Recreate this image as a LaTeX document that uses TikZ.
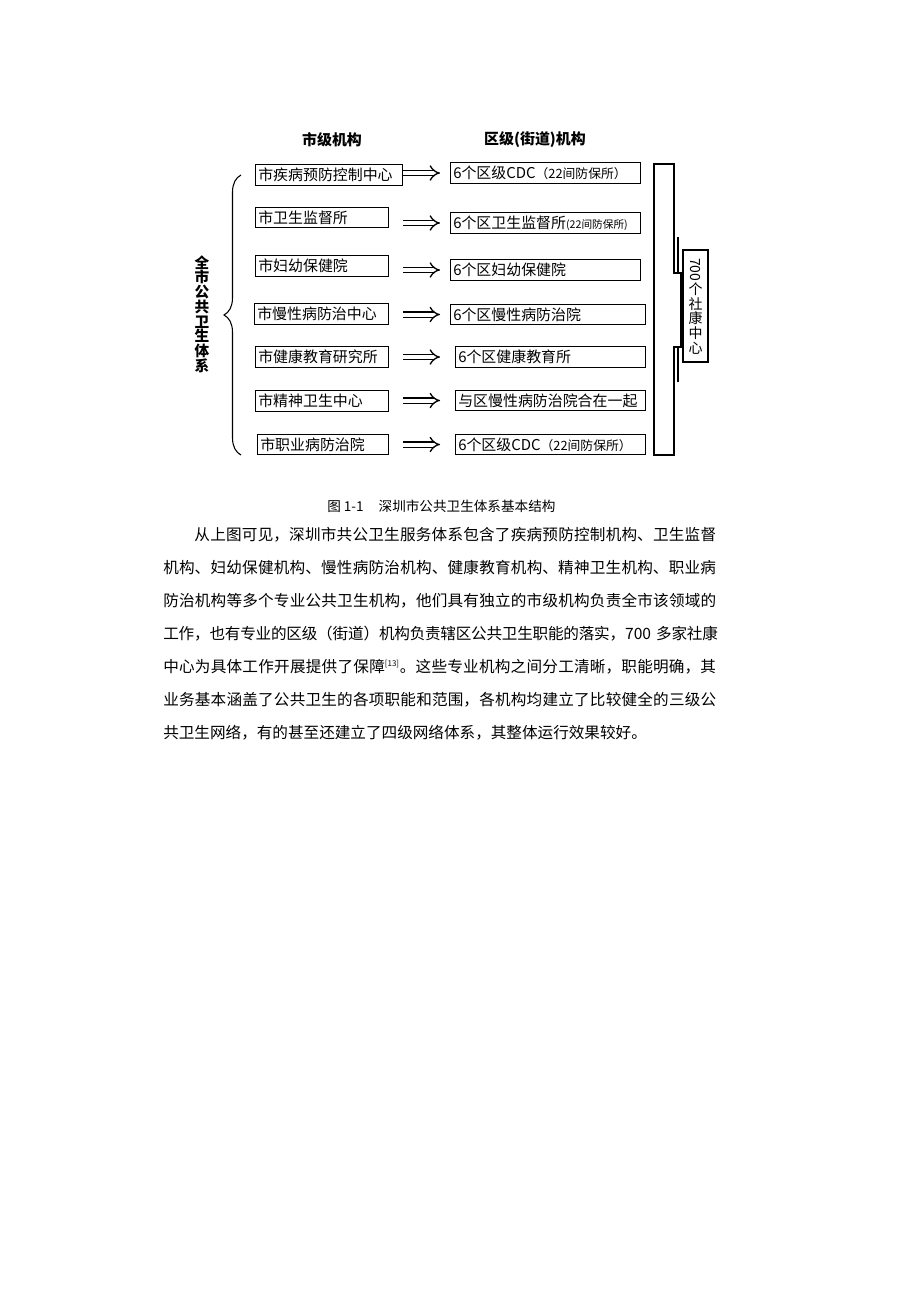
\documentclass[tikz,border=0pt]{standalone}
\usepackage{graphicx}
\usepackage{fontspec}
\setmainfont{Noto Sans CJK SC}
\usetikzlibrary{arrows.meta,decorations.pathreplacing}
\newcommand\fsmall[2]{{\fontsize{#1}{#1}\selectfont #2}}
\begin{document}
\begin{tikzpicture}[x=0.75pt,y=-0.75pt,
    box node/.style={draw,line width=0.9pt,anchor=west,inner xsep=2pt,inner ysep=0pt,
      minimum height=15.5pt,text width=#1,align=left,font=\fontsize{11.2pt}{12pt}\selectfont},
    head node/.style={font=\fontsize{11.2pt}{12pt}\selectfont\bfseries},
    imply/.style={double,double distance=3pt,line width=1pt,-{Implies}},
    last line/.style={anchor=west,inner sep=0pt,font=\fontsize{11.7pt}{14pt}\selectfont},
    text line/.style={last line,text width=416pt,
      execute at begin node={\parindent=0pt\parfillskip=0pt\XeTeXlinebreaklocale "zh"\XeTeXlinebreakskip=0pt plus 3pt minus 0.6pt\relax}}
  ]
  \fill[white] (0,0) rectangle (920,1302);
  \useasboundingbox (0,0) rectangle (920,1302);

  % column heads
  \node[head node] (cityhead) at (332,140) {市级机构};
  \node[head node] (disthead) at (535,140) {区级(街道)机构};

  % city level
  \node[box node=106.25pt] (l1) at (255,175) {市疾病预防控制中心};
  \node[box node=95.75pt] (l2) at (255,217.5) {市卫生监督所};
  \node[box node=95.75pt] (l3) at (255,266) {市妇幼保健院};
  \node[box node=96.5pt] (l4) at (254,314) {市慢性病防治中心};
  \node[box node=95.75pt] (l5) at (255,357) {市健康教育研究所};
  \node[box node=95.75pt] (l6) at (255,401) {市精神卫生中心};
  \node[box node=94.25pt] (l7) at (257,444.5) {市职业病防治院};

  % district level
  \node[box node=138.5pt] (r1) at (450,173) {6个区级CDC\fsmall{9.6pt}{（22间防保所）}};
  \node[box node=138.5pt] (r2) at (450,223) {6个区卫生监督所\fsmall{8pt}{(22间防保所)}};
  \node[box node=138.5pt] (r3) at (450,270) {6个区妇幼保健院};
  \node[box node=142.25pt] (r4) at (450,314.5) {6个区慢性病防治院};
  \node[box node=138.5pt] (r5) at (455,357) {6个区健康教育所};
  \node[box node=138.5pt] (r6) at (455,400.5) {与区慢性病防治院合在一起};
  \node[box node=138.5pt] (r7) at (455,444.5) {6个区级CDC\fsmall{9.6pt}{（22间防保所）}};

  \coordinate (ax) at (403,0);
  \coordinate (bx) at (440,0);
  \path%
   (ax |- r1.west) edge[imply] (bx |- r1.west)
   (ax |- r2.west) edge[imply] (bx |- r2.west)
   (ax |- r3.west) edge[imply] (bx |- r3.west)
   (ax |- r4.west) edge[imply] (bx |- r4.west)
   (ax |- r5.west) edge[imply] (bx |- r5.west)
   (ax |- r6.west) edge[imply] (bx |- r6.west)
   (ax |- r7.west) edge[imply] (bx |- r7.west);

  % whole system brace
  \node[font=\fontsize{11pt}{11.06pt}\selectfont\bfseries,align=center,inner sep=0pt] (whole) at (202,314)
    {全\\市\\公\\共\\卫\\生\\体\\系};
  \draw[line width=0.8pt,decorate,decoration={brace,amplitude=12.75pt}] (241,455) -- (241,175);

  % community centres
  \draw[line width=0.9pt] (654,164) -- (674,164) -- (674,273) -- (681,273) -- (681,347)
    -- (674,347) -- (674,455) -- (654,455) -- cycle;
  \node[draw,line width=0.9pt,minimum width=18.75pt,minimum height=84pt,inner sep=0pt,align=center,
    font=\fontsize{10.5pt}{11pt}\selectfont] (sk) at (695.5,306)
    {\rotatebox{-90}{700}\\个\\社\\康\\中\\心};
  \draw[line width=0.8pt] (678,237) -- (678,273);
  \draw[line width=0.8pt] (678,347) -- (678,382);

  % caption and text
  \node[anchor=west,inner sep=0pt,font=\fontsize{10.2pt}{11pt}\selectfont] (cap) at (327,506)
    {图 1-1\hspace{1.1em}深圳市公共卫生体系基本结构};
  \node[text line] (p1) at (163,535) {\hspace*{2em}从上图可见，深圳市共公卫生服务体系包含了疾病预防控制机构、卫生监督};
  \node[text line] (p2) at (163,568) {机构、妇幼保健机构、慢性病防治机构、健康教育机构、精神卫生机构、职业病};
  \node[text line] (p3) at (163,601) {防治机构等多个专业公共卫生机构，他们具有独立的市级机构负责全市该领域的};
  \node[text line] (p4) at (163,634) {工作，也有专业的区级（街道）机构负责辖区公共卫生职能的落实，700 多家社康};
  \node[text line] (p5) at (163,667) {中心为具体工作开展提供了保障\textsuperscript{\fsmall{6pt}{[13]}}。这些专业机构之间分工清晰，职能明确，其};
  \node[text line] (p6) at (163,700) {业务基本涵盖了公共卫生的各项职能和范围，各机构均建立了比较健全的三级公};
  \node[last line] (p7) at (163,733) {共卫生网络，有的甚至还建立了四级网络体系，其整体运行效果较好。};
\end{tikzpicture}
\end{document}
